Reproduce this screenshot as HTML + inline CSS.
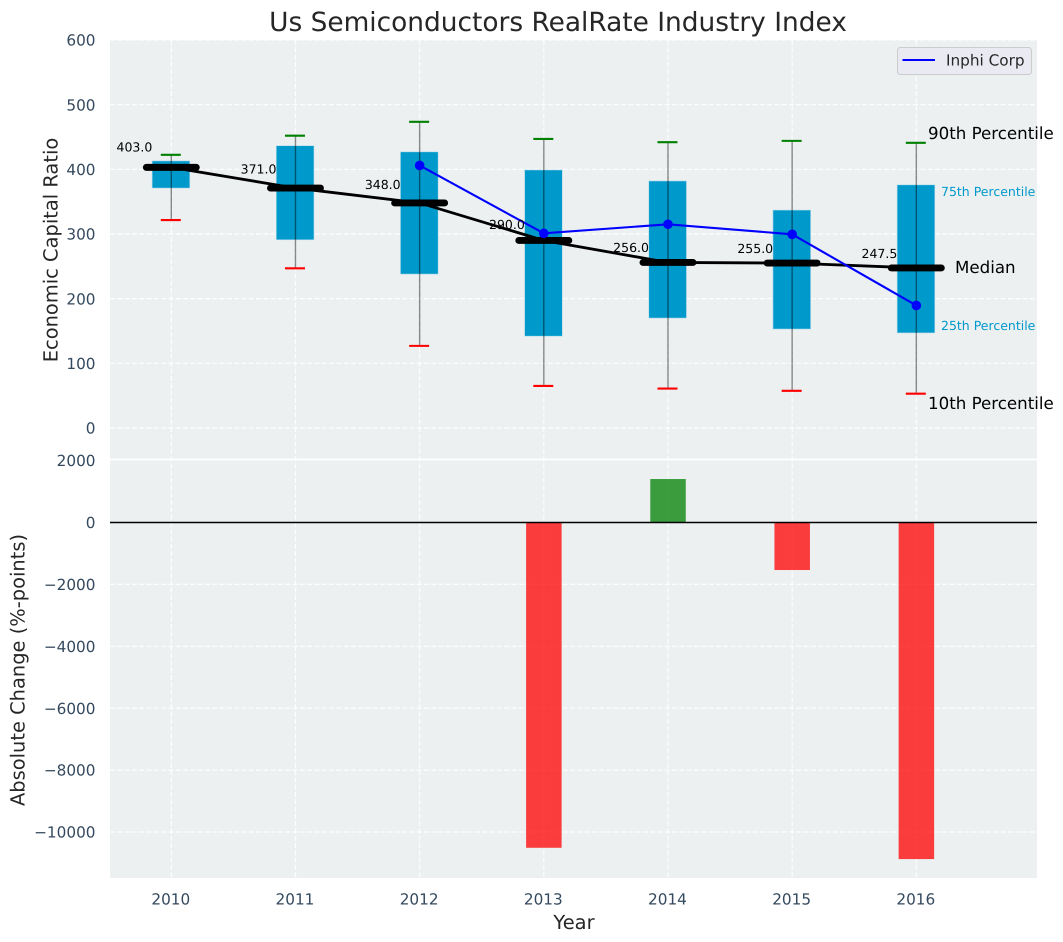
<!DOCTYPE html>
<html lang="en">
<head>
<meta charset="utf-8">
<title>Us Semiconductors RealRate Industry Index</title>
<style>
html,body{margin:0;padding:0;background:#fff;}
svg{display:block;font-family:"DejaVu Sans","Liberation Sans",sans-serif;text-rendering:geometricPrecision;}
</style>
</head>
<body>
<svg id="chart" xmlns="http://www.w3.org/2000/svg" width="1063" height="942" viewBox="0 0 1063 942">
<rect x="110" y="40" width="927" height="419.5" fill="#ecf0f1"/>
<rect x="110" y="459.5" width="927" height="418.5" fill="#ecf0f1"/>
<g id="grid"></g>
<g id="marks"></g>
<g id="labels"></g>
<text x="558" y="31" text-anchor="middle" font-size="26.4" fill="#262626">Us Semiconductors RealRate Industry Index</text>
<text x="574" y="929" text-anchor="middle" font-size="19.44" fill="#262626">Year</text>
<text transform="translate(57.5,250) rotate(-90)" text-anchor="middle" font-size="19.44" fill="#262626">Economic Capital Ratio</text>
<text transform="translate(24.5,670) rotate(-90)" text-anchor="middle" font-size="19.44" fill="#262626">Absolute Change (%-points)</text>
<g>
<rect x="897.5" y="47.5" width="134" height="27" rx="3" fill="#eaeaf2" stroke="#cccccc" stroke-width="1"/>
<line x1="902.5" y1="60" x2="935" y2="60" stroke="#0000ff" stroke-width="2"/>
<text x="946" y="65.5" font-size="15.28" fill="#262626">Inphi Corp</text>
</g>
<text x="928" y="139" font-size="16.67" fill="#000">90th Percentile</text>
<text x="941" y="196" font-size="12.5" fill="#0099cc">75th Percentile</text>
<text x="955" y="273" font-size="16.67" fill="#000">Median</text>
<text x="941" y="330" font-size="12.5" fill="#0099cc">25th Percentile</text>
<text x="928" y="409" font-size="16.67" fill="#000">10th Percentile</text>
</svg>
<script>
const years = [2010, 2011, 2012, 2013, 2014, 2015, 2016];
const p10 = [321.5, 247, 127, 65, 61, 57.5, 53];
const p25 = [371, 291, 238, 142, 170, 153, 147];
const medians = [403, 371, 348, 290, 256, 255, 247.5];
const p75 = [413, 436.5, 427, 399, 382, 337, 376];
const p90 = [422.5, 452, 473.5, 447, 442, 444, 441];
const inphiYears = [2012, 2013, 2014, 2015, 2016];
const inphiValues = [406, 301, 315, 299.5, 189.5];
const changeYears = [2013, 2014, 2015, 2016];
const changeValues = [-10510, 1405, -1535, -10875];
const topTicks = [0, 100, 200, 300, 400, 500, 600];
const topTickLabels = ['0', '100', '200', '300', '400', '500', '600'];
const bottomTicks = [2000, 0, -2000, -4000, -6000, -8000, -10000];
const bottomTickLabels = ['2000', '0', '\u22122000', '\u22124000', '\u22126000', '\u22128000', '\u221210000'];

const NS = 'http://www.w3.org/2000/svg';
const gridG = document.getElementById('grid');
const marksG = document.getElementById('marks');
const labelsG = document.getElementById('labels');

function xScale(v) { return 171.3 + (v - 2010) * 124.17; }
function yTop(v) { return 428 - v * 0.6467; }
function yBottom(v) { return 522.5 - v * 0.03095; }

function make(parent, tag, props, text) {
  const el = document.createElementNS(NS, tag);
  for (const k in props) { el.setAttribute(k, props[k]); }
  if (text !== undefined) { el.textContent = text; }
  parent.appendChild(el);
  return el;
}

// vertical grid lines and x tick labels
years.forEach(function (yr, i) {
  const x = xScale(yr);
  const gl = make(gridG, 'line', {x1: x, x2: x, y1: 40, y2: 878, stroke: '#fff', 'stroke-width': 1.2, 'stroke-dasharray': '5.1 2.2', opacity: 0.9});
  
  
  const tl = make(labelsG, 'text', {x: x - 0.5, y: 904.5, 'text-anchor': 'middle', 'font-size': 15.28, fill: '#34495e'}, String(yr));
  
  
});

// top panel horizontal grid and y ticks
topTicks.forEach(function (t, i) {
  const y = yTop(t);
  const gl = make(gridG, 'line', {x1: 110, x2: 1037, y1: y, y2: y, stroke: '#fff', 'stroke-width': 1.2, 'stroke-dasharray': '5.1 2.2', opacity: 0.9});
  
  
  const tl = make(labelsG, 'text', {x: 95.5, y: y + 5.6, 'text-anchor': 'end', 'font-size': 15.28, fill: '#34495e'}, topTickLabels[i]);
  
  
});

// bottom panel horizontal grid and y ticks
bottomTicks.forEach(function (t, i) {
  const y = yBottom(t);
  const isEdge = t === 2000;
  const gl = make(gridG, 'line', {x1: 110, x2: 1037, y1: isEdge ? 459.5 : y, y2: isEdge ? 459.5 : y, stroke: '#fff', 'stroke-width': isEdge ? 2 : 1.2, 'stroke-dasharray': isEdge ? 'none' : '5.1 2.2', opacity: 0.9});
  
  
  const tl = make(labelsG, 'text', {x: 95.5, y: y + 5.6, 'text-anchor': 'end', 'font-size': 15.28, fill: '#34495e'}, bottomTickLabels[i]);
  
  
});

// percentile boxes
years.forEach(function (yr, i) {
  const x = xScale(yr);
  const box = make(marksG, 'rect', {x: x - 19.2, y: yTop(p75[i]), width: 37.7, height: yTop(p25[i]) - yTop(p75[i]), fill: '#0099cc', stroke: '#b8dcea', 'stroke-width': 0.6});
  
  
});

// whiskers and caps
years.forEach(function (yr, i) {
  const x = xScale(yr);
  const w = make(marksG, 'line', {x1: x, x2: x, y1: yTop(p90[i]), y2: yTop(p10[i]), stroke: '#000', 'stroke-opacity': 0.45, 'stroke-width': 1.4});
  
  
  const capHi = make(marksG, 'line', {x1: x - 10.5, x2: x + 9.5, y1: yTop(p90[i]), y2: yTop(p90[i]), stroke: '#008000', 'stroke-width': 2.1});
  
  
  const capLo = make(marksG, 'line', {x1: x - 10.5, x2: x + 9.5, y1: yTop(p10[i]), y2: yTop(p10[i]), stroke: '#ff0000', 'stroke-width': 2.1});
  
  
});

// median connecting line
const medianLine = make(marksG, 'polyline', {points: years.map(function (yr, i) { return xScale(yr) + ',' + yTop(medians[i]); }).join(' '), fill: 'none', stroke: '#000', 'stroke-width': 2.8});



// median bars
years.forEach(function (yr, i) {
  const x = xScale(yr);
  const bar = make(marksG, 'line', {x1: x - 25, x2: x + 25, y1: yTop(medians[i]), y2: yTop(medians[i]), stroke: '#000', 'stroke-width': 6.9, 'stroke-linecap': 'round'});
  
  
});

// Inphi series
const inphiLine = make(marksG, 'polyline', {points: inphiYears.map(function (yr, i) { return xScale(yr) + ',' + yTop(inphiValues[i]); }).join(' '), fill: 'none', stroke: '#0000ff', 'stroke-width': 2.1});


inphiYears.forEach(function (yr, i) {
  const pt = make(marksG, 'circle', {cx: xScale(yr), cy: yTop(inphiValues[i]), r: 4.8, fill: '#0000ff'});
  
  
});

// median value labels
years.forEach(function (yr, i) {
  const lab = make(marksG, 'text', {x: xScale(yr) - 54.8, y: yTop(medians[i] * 1.06 + 7.6) + 4.5, 'font-size': 12.5, fill: '#000'}, medians[i].toFixed(1));
  
  
});

// change bars
changeYears.forEach(function (yr, i) {
  const v = changeValues[i];
  const y0 = yBottom(Math.max(v, 0));
  const y1 = yBottom(Math.min(v, 0));
  const bar = make(marksG, 'rect', {x: xScale(yr) - 17.7, y: y0, width: 35.5, height: y1 - y0, fill: v < 0 ? '#ff0000' : '#008000', 'fill-opacity': 0.75});
  
  
});

// zero line
const zero = make(marksG, 'line', {x1: 110, x2: 1037, y1: yBottom(0), y2: yBottom(0), stroke: '#000', 'stroke-width': 1.4});


</script>
</body>
</html>
